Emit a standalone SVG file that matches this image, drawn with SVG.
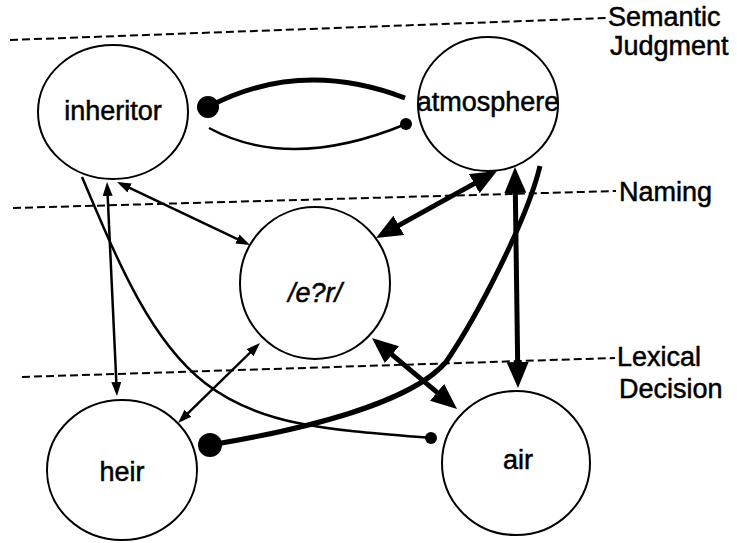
<svg xmlns="http://www.w3.org/2000/svg" width="737" height="543" viewBox="0 0 737 543">
<style>
.bg{fill:#fff}
.node ellipse{fill:none;stroke:#000;stroke-width:2}
.lbl{font-family:"Liberation Sans",Arial,sans-serif;font-size:27px;fill:#000;stroke:#000;stroke-width:0.5;text-anchor:middle}
.side{font-family:"Liberation Sans",Arial,sans-serif;font-size:27px;fill:#000;stroke:#000;stroke-width:0.5}
.dash{stroke:#000;stroke-width:2;stroke-dasharray:8 4;fill:none}
.thin{stroke:#000;stroke-width:2.5;fill:none}
.thick{stroke:#000;stroke-width:5;fill:none}
.dot{fill:#000}
</style>
<defs>
<marker id="ahS" viewBox="0 0 14 10" refX="10" refY="5" markerWidth="14" markerHeight="10" markerUnits="userSpaceOnUse" orient="auto-start-reverse"><path d="M0,0 L14,5 L0,10 Z" fill="#000"/></marker>
<marker id="ahL" viewBox="0 0 26 22" refX="18" refY="11" markerWidth="26" markerHeight="22" markerUnits="userSpaceOnUse" orient="auto-start-reverse"><path d="M0,0 L26,11 L0,22 Z" fill="#000"/></marker>
</defs>
<rect class="bg" width="737" height="543"/>
<g id="levels">
<line class="dash" x1="10" y1="40" x2="606" y2="18"/>
<line class="dash" x1="13" y1="208" x2="616" y2="191"/>
<line class="dash" x1="22" y1="377" x2="615" y2="358"/>
<text class="side" x="608" y="26">Semantic</text>
<text class="side" x="610" y="55">Judgment</text>
<text class="side" x="619" y="201">Naming</text>
<text class="side" x="617" y="366">Lexical</text>
<text class="side" x="619" y="398">Decision</text>
</g>
<g id="inheritor" class="node"><ellipse cx="113" cy="112" rx="75" ry="67"/><text class="lbl" x="113" y="120">inheritor</text></g>
<g id="atmosphere" class="node"><ellipse cx="488" cy="104" rx="70" ry="67"/><text class="lbl" x="488" y="111">atmosphere</text></g>
<g id="phon" class="node"><ellipse cx="315" cy="283" rx="75" ry="76"/><text class="lbl" x="315" y="302" font-style="italic">/e?r/</text></g>
<g id="heir" class="node"><ellipse cx="122" cy="470" rx="75" ry="70"/><text class="lbl" x="122" y="481">heir</text></g>
<g id="air" class="node"><ellipse cx="516" cy="463" rx="74" ry="72"/><text class="lbl" x="518" y="469">air</text></g>
<g id="connectors">
<path class="thick" d="M208,107 Q300,58 405,98"/>
<circle class="dot" cx="208" cy="107" r="11"/>
<path class="thin" d="M209,128 Q290,172 406,124"/>
<circle class="dot" cx="406" cy="124" r="6"/>
<path class="thin" d="M82,177 C118,262 150,340 205,383 S330,430 431,438"/>
<circle class="dot" cx="431" cy="438" r="6"/>
<path class="thick" d="M210,445 C300,430 410,404 446,362 C478,315 527,220 540,166"/>
<circle class="dot" cx="210" cy="445" r="12"/>
<line class="thin" x1="120.6" y1="183.7" x2="246.4" y2="243.3" marker-start="url(#ahS)" marker-end="url(#ahS)"/>
<line class="thin" x1="107.2" y1="186" x2="116.8" y2="392" marker-start="url(#ahS)" marker-end="url(#ahS)"/>
<line class="thin" x1="257.1" y1="345.8" x2="180.9" y2="420.2" marker-start="url(#ahS)" marker-end="url(#ahS)"/>
<line class="thick" x1="490" y1="174.9" x2="383" y2="234.1" marker-start="url(#ahL)" marker-end="url(#ahL)"/>
<line class="thick" x1="515.1" y1="175" x2="517.9" y2="380" marker-start="url(#ahL)" marker-end="url(#ahL)"/>
<line class="thick" x1="378.1" y1="343.1" x2="450.9" y2="403.9" marker-start="url(#ahL)" marker-end="url(#ahL)"/>
</g>
</svg>
